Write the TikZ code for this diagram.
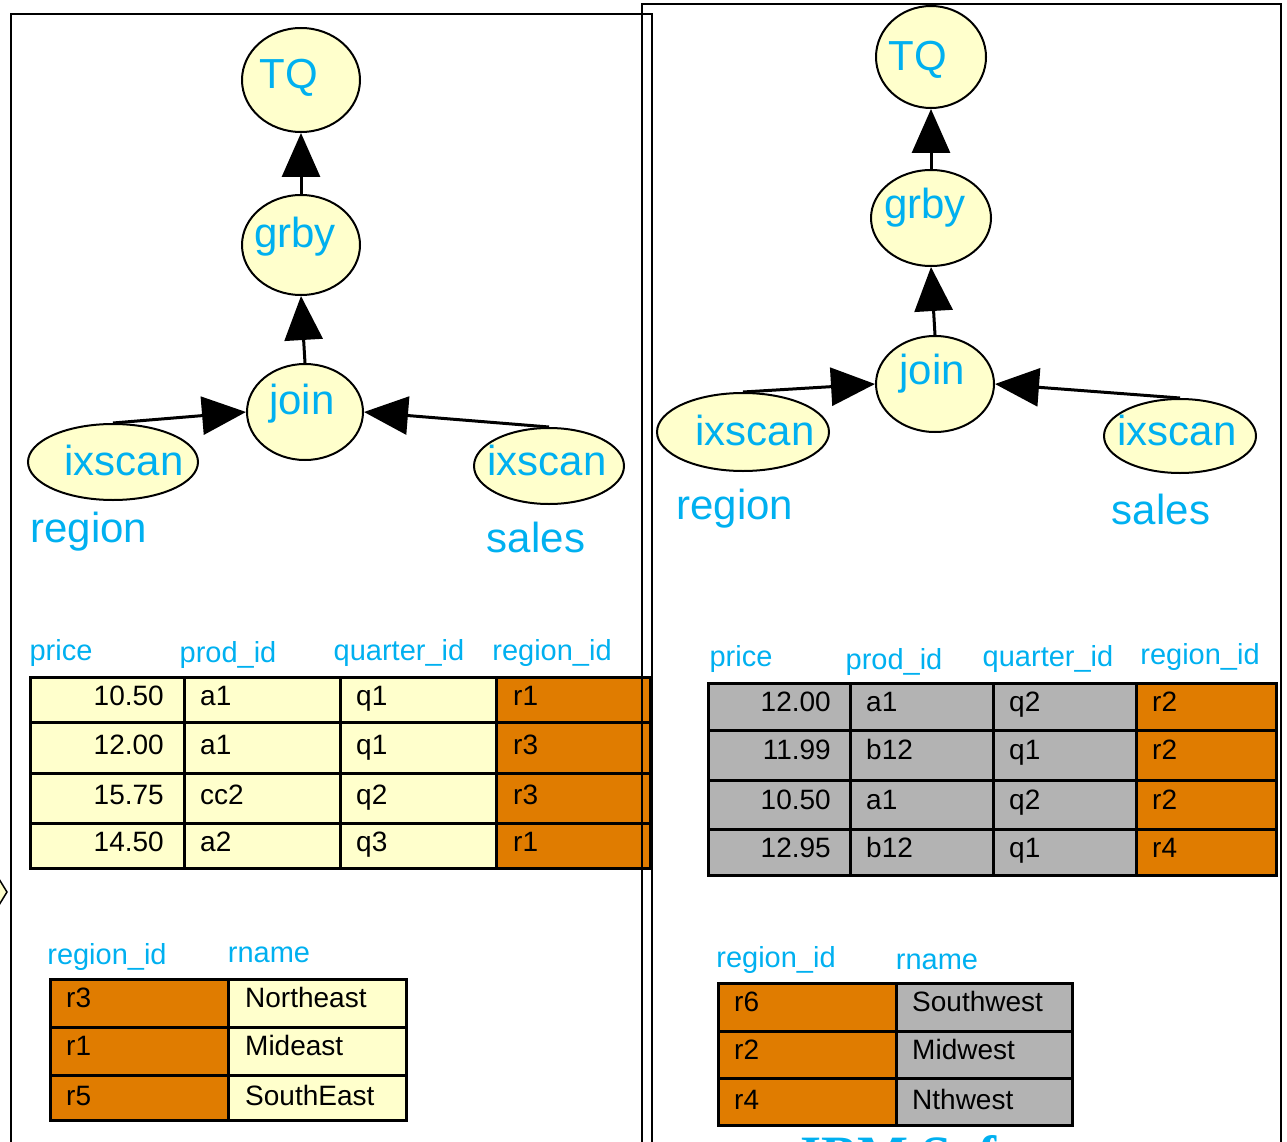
\documentclass[tikz,border=0pt]{standalone}
\usepackage{fontspec}
\setmainfont{Liberation Sans}
\newfontfamily\brandfont{Liberation Serif}
\usetikzlibrary{shapes.geometric,arrows.meta}

\definecolor{labelblue}{RGB}{0,176,240}
\definecolor{paleyellow}{RGB}{255,255,204}
\definecolor{keyorange}{RGB}{224,124,0}
\definecolor{rowgray}{RGB}{179,179,179}

% a label of zero width, its ink moved right by #1 and up by #2,
% so that the ellipse takes only its minimum size
\newcommand\offtext[3]{\raisebox{#2}[\height][\depth]{\makebox[0pt]{\hspace*{#1}\hspace*{#1}#3}}}

\tikzset{
  opnode/.style={ellipse, draw=black, line width=2pt, fill=paleyellow,
    inner sep=0pt, text=labelblue, font=\fontsize{42}{42}\selectfont},
  flow/.style={line width=3pt, -{Triangle[length=44pt,width=38pt]}},
  tname/.style={text=labelblue, inner sep=0pt, font=\fontsize{42}{42}\selectfont},
  colhead/.style={text=labelblue, inner sep=0pt, font=\fontsize{29}{29}\selectfont},
  cell/.style={inner sep=0pt, font=\fontsize{28}{28}\selectfont},
  gridline/.style={line width=3pt},
  panel/.style={line width=2pt},
}

\begin{document}
\begin{tikzpicture}[x=1pt, y=-1pt]
\useasboundingbox (0,0) rectangle (1287,1142);

% ---------------- left plan ----------------
\node[opnode, minimum width=118pt, minimum height=104pt] (ltq) at (301,80) {\offtext{-12pt}{2pt}{TQ}};
\node[opnode, minimum width=118pt, minimum height=100pt] (lgrby) at (301,245) {\offtext{-6pt}{8pt}{grby}};
\node[opnode, minimum width=116pt, minimum height=96pt] (ljoin) at (305,412) {\offtext{-3pt}{8pt}{join}};
\node[opnode, minimum width=170pt, minimum height=76pt] (lixr) at (113,462) {\offtext{11pt}{2pt}{ixscan}};
\node[opnode, minimum width=150pt, minimum height=76pt] (lixs) at (549,466) {\offtext{-2pt}{6pt}{ixscan}};
\node[tname] (lregion) at (89,532) {region};
\node[tname] (lsales) at (536,537) {sales};

\draw[flow] (lgrby.north) -- (ltq.south);
\draw[flow] (ljoin.north) -- (lgrby.south);
\draw[flow] (lixr.north) -- (ljoin.west);
\draw[flow] (lixs.north) -- (ljoin.east);

% sales rows, left
\fill[paleyellow] (30,677) rectangle (496,868);
\fill[keyorange] (496,677) rectangle (650,868);
\foreach \x in {184,340,496} \draw[gridline] (\x,677) -- (\x,868);
\foreach \y in {722,773,823} \draw[gridline] (30,\y) -- (650,\y);
\draw[gridline] (30,677) rectangle (650,868);

\node[colhead] (lhprice) at (61,653) {price};
\node[colhead] (lhprod) at (228,655) {prod\_id};
\node[colhead] (lhqtr) at (399,653) {quarter\_id};
\node[colhead] (lhreg) at (552,653) {region\_id};

\foreach \p/\a/\q/\r/\y [count=\i] in
  {10.50/a1/q1/r1/705, 12.00/a1/q1/r3/754, 15.75/cc2/q2/r3/804, 14.50/a2/q3/r1/851} {
  \node[cell, anchor=base east] (lprice\i) at (164,\y) {\p};
  \node[cell, anchor=base west] (lprod\i) at (200,\y) {\a};
  \node[cell, anchor=base west] (lqtr\i) at (356,\y) {\q};
  \node[cell, anchor=base west] (lreg\i) at (513,\y) {\r};
}

% region rows, left
\fill[keyorange] (50,979) rectangle (228,1120);
\fill[paleyellow] (228,979) rectangle (406,1120);
\draw[gridline] (228,979) -- (228,1120);
\foreach \y in {1027,1075} \draw[gridline] (50,\y) -- (406,\y);
\draw[gridline] (50,979) rectangle (406,1120);

\node[colhead] (lhrid) at (107,957) {region\_id};
\node[colhead] (lhrname) at (269,955) {rname};

\foreach \r/\n/\y [count=\i] in {r3/Northeast/1007, r1/Mideast/1055, r5/SouthEast/1105} {
  \node[cell, anchor=base west] (lrid\i) at (66,\y) {\r};
  \node[cell, anchor=base west] (lrname\i) at (245,\y) {\n};
}

% ---------------- right plan ----------------
\node[opnode, minimum width=110pt, minimum height=102pt] (rtq) at (931,57) {\offtext{-13pt}{-3pt}{TQ}};
\node[opnode, minimum width=120pt, minimum height=96pt] (rgrby) at (931,218) {\offtext{-6pt}{10pt}{grby}};
\node[opnode, minimum width=118pt, minimum height=96pt] (rjoin) at (935,384) {\offtext{-3pt}{10pt}{join}};
\node[opnode, minimum width=172pt, minimum height=78pt] (rixr) at (743,432) {\offtext{12pt}{2pt}{ixscan}};
\node[opnode, minimum width=152pt, minimum height=74pt] (rixs) at (1180,436) {\offtext{-3pt}{6pt}{ixscan}};
\node[tname] (rregion) at (735,509) {region};
\node[tname] (rsales) at (1161,509) {sales};

\draw[flow] (rgrby.north) -- (rtq.south);
\draw[flow] (rjoin.north) -- (rgrby.south);
\draw[flow] (rixr.north) -- (rjoin.west);
\draw[flow] (rixs.north) -- (rjoin.east);

% sales rows, right
\fill[rowgray] (708,683) rectangle (1136,875);
\fill[keyorange] (1136,683) rectangle (1276,875);
\foreach \x in {850,993,1136} \draw[gridline] (\x,683) -- (\x,875);
\foreach \y in {730,780,829} \draw[gridline] (708,\y) -- (1276,\y);
\draw[gridline] (708,683) rectangle (1276,875);

\node[colhead] (rhprice) at (741,659) {price};
\node[colhead] (rhprod) at (894,662) {prod\_id};
\node[colhead] (rhqtr) at (1048,659) {quarter\_id};
\node[colhead] (rhreg) at (1200,657) {region\_id};

\foreach \p/\a/\q/\r/\y [count=\i] in
  {12.00/a1/q2/r2/711, 11.99/b12/q1/r2/759, 10.50/a1/q2/r2/809, 12.95/b12/q1/r4/857} {
  \node[cell, anchor=base east] (rprice\i) at (831,\y) {\p};
  \node[cell, anchor=base west] (rprod\i) at (866,\y) {\a};
  \node[cell, anchor=base west] (rqtr\i) at (1009,\y) {\q};
  \node[cell, anchor=base west] (rreg\i) at (1152,\y) {\r};
}

% region rows, right
\fill[keyorange] (718,983) rectangle (896,1125);
\fill[rowgray] (896,983) rectangle (1072,1125);
\draw[gridline] (896,983) -- (896,1125);
\foreach \y in {1031,1078} \draw[gridline] (718,\y) -- (1072,\y);
\draw[gridline] (718,983) rectangle (1072,1125);

\node[colhead] (rhrid) at (776,960) {region\_id};
\node[colhead] (rhrname) at (937,962) {rname};

\foreach \r/\n/\y [count=\i] in {r6/Southwest/1011, r2/Midwest/1059, r4/Nthwest/1109} {
  \node[cell, anchor=base west] (rrid\i) at (734,\y) {\r};
  \node[cell, anchor=base west] (rrname\i) at (912,\y) {\n};
}

% ---------------- panel frames and edge marks ----------------
\draw[panel] (11,1160) -- (11,14) -- (652,14) -- (652,1160);
\draw[panel] (642,1160) -- (642,4) -- (1281,4) -- (1281,1160);
\draw[line width=1.5pt, fill=paleyellow] (-8,879) -- (-1,879) -- (7,892) -- (-1,905) -- (-8,905);

\node[anchor=base west, inner sep=0pt, text=labelblue,
  font=\brandfont\bfseries\fontsize{54}{54}\selectfont] (brand) at (800,1173) {IBM Software};
\end{tikzpicture}
\end{document}
